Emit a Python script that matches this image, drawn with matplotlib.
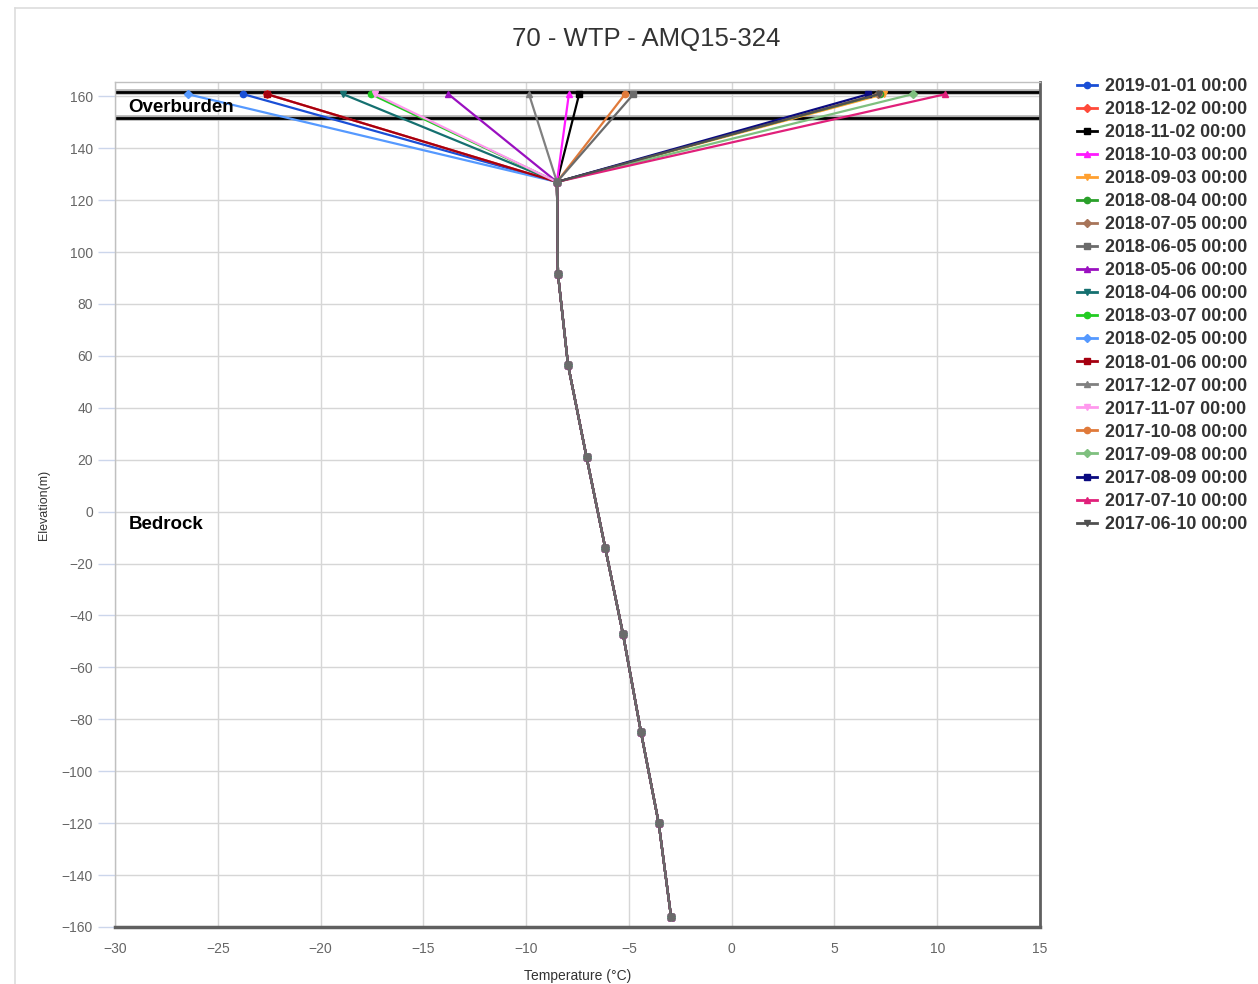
import numpy as np
import matplotlib
matplotlib.use('Agg')
import matplotlib.pyplot as plt
from matplotlib.lines import Line2D

plt.rcParams['font.family'] = ['Liberation Sans', 'DejaVu Sans']

# shared profile below the surface reading (elevation m, temperature C)
elev = [160.8, 127, 91.5, 56.5, 21, -14, -47, -85, -120, -156]
deep_temp = [-8.5, -8.45, -7.96, -7.06, -6.15, -5.29, -4.41, -3.55, -2.95]

dates = ['2019-01-01 00:00', '2018-12-02 00:00', '2018-11-02 00:00', '2018-10-03 00:00',
         '2018-09-03 00:00', '2018-08-04 00:00', '2018-07-05 00:00', '2018-06-05 00:00',
         '2018-05-06 00:00', '2018-04-06 00:00', '2018-03-07 00:00', '2018-02-05 00:00',
         '2018-01-06 00:00', '2017-12-07 00:00', '2017-11-07 00:00', '2017-10-08 00:00',
         '2017-09-08 00:00', '2017-08-09 00:00', '2017-07-10 00:00', '2017-06-10 00:00']
# surface temperatures (top reading)
surf_temp = [-23.75, -22.6, -7.42, -7.92, 7.4, 7.2, 7.1, -4.78,
             -13.78, -18.9, -17.54, -26.46, -22.6, -9.86, -17.35, -5.19,
             8.8, 6.65, 10.39, 7.15]
colors = ['#1a4fd6', '#ff4a3a', '#000000', '#ff1aff', '#ffa030', '#2aa02a', '#a8755a', '#6b6b6b',
          '#9a10c0', '#157070', '#22cc22', '#5599ff', '#a50010', '#808080', '#ff99ee', '#e07a3a',
          '#7fc07f', '#0a0a80', '#e0207a', '#505050']
markers = ['o', 'D', 's', '^', 'v']

boundaries = [161.8, 151.8]

fig = plt.figure(figsize=(12.58, 9.84), dpi=100)
ax = fig.add_axes([115/1258, 1-927/984, 925/1258, 845/984])

# figure border
fig.add_artist(Line2D([15/1258, 15/1258], [0, 1-8/984], transform=fig.transFigure, color='#dddddd', lw=1.2))
fig.add_artist(Line2D([15/1258, 1], [1-8/984, 1-8/984], transform=fig.transFigure, color='#dddddd', lw=1.2))

handles = []
for i in range(len(dates)):
    t = [surf_temp[i]] + deep_temp
    m = markers[i % 5]
    ms = {'o': 4.5, 's': 4.5, 'D': 3.6, '^': 5, 'v': 5}[m]
    z = 3.5 if dates[i].startswith('2018-06-05') else 3 + i * 0.01
    ax.plot(t, elev, color=colors[i], lw=1.6, marker=m, ms=ms, zorder=z)
    handles.append(Line2D([], [], color=colors[i], lw=2, marker=m, ms=ms))

for b in boundaries:
    ax.axhline(b, color='#b0b0b0', lw=4, zorder=2)
    ax.axhline(b, color='black', lw=2, zorder=2.1)

ax.text(-29.35, 155.5, 'Overburden', fontsize=13.5, fontweight='bold', va='center', zorder=5)
ax.text(-29.35, -5, 'Bedrock', fontsize=13.5, fontweight='bold', va='center', zorder=5)

ax.set_xlim(-30, 15)
ax.set_ylim(-160, 165.5)
ax.set_xticks(np.arange(-30, 16, 5))
ax.set_yticks(np.arange(-160, 161, 20))
ax.set_xticklabels(['\u2212' + str(abs(v)) if v < 0 else str(v) for v in range(-30, 16, 5)])
ax.set_yticklabels(['\u2212' + str(abs(v)) if v < 0 else str(v) for v in range(-160, 161, 20)])
ax.grid(True, color='#d6d6d6', lw=1, zorder=0)
ax.set_axisbelow(True)
ax.tick_params(axis='x', length=0, pad=11, labelsize=10, labelcolor='#666666')
ax.tick_params(axis='y', length=12, width=1, color='#ccd6eb', pad=4, labelsize=10, labelcolor='#666666')
for s in ['left', 'top']:
    ax.spines[s].set_color('#c0c0c0')
    ax.spines[s].set_linewidth(1)
ax.spines['right'].set_color('#606060')
ax.spines['right'].set_linewidth(2)
ax.spines['bottom'].set_color('#606060')
ax.spines['bottom'].set_linewidth(2.5)

ax.set_xlabel('Temperature (\u00b0C)', fontsize=10, color='#333333', labelpad=9)
ax.set_ylabel('Elevation(m)', fontsize=9, color='#333333', labelpad=8)

fig.text(646/1258, 1-39/984, '70 - WTP - AMQ15-324', fontsize=18.5,
         color='#333333', ha='center', va='center')

leg = fig.legend(handles, dates, loc='upper left', bbox_to_anchor=(1061/1258, 1-62/984),
                 frameon=False, handlelength=1.15, handletextpad=0.4, labelspacing=0.34,
                 prop={'size': 12.8, 'weight': 'bold'})
for txt in leg.get_texts():
    txt.set_color('#333333')

fig.savefig('out.png', dpi=100)
